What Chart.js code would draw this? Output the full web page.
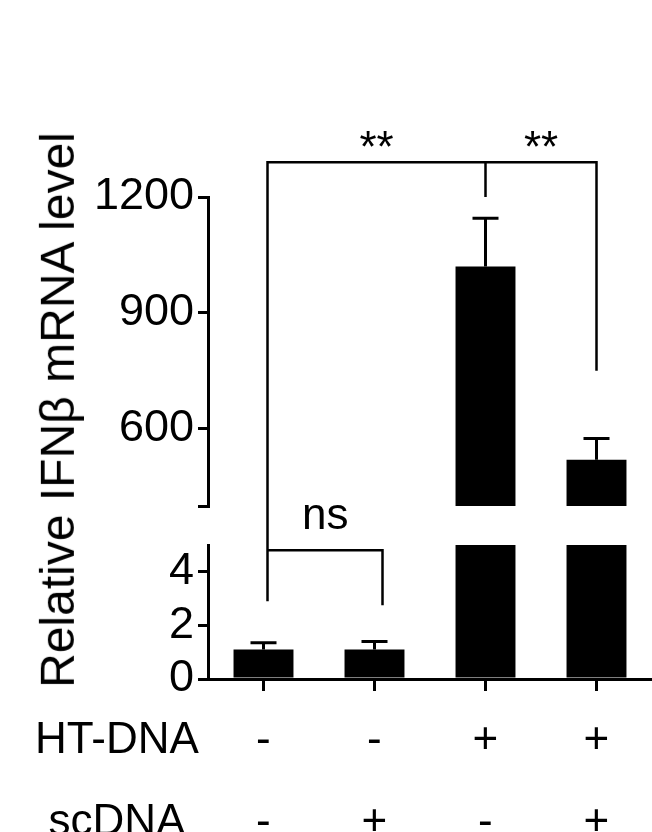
<!DOCTYPE html>
<html><head><meta charset="utf-8">
<script src="https://cdn.jsdelivr.net/npm/chart.js@4/dist/chart.umd.min.js"></script>
<style>
body{margin:0;background:#fff;overflow:hidden}
#wrap{position:relative;width:652px;height:832px;font-family:"Liberation Sans",Arial,sans-serif;color:#000}
canvas{position:absolute;left:0}
.t{position:absolute;font-size:44px;line-height:1;white-space:nowrap}
</style></head><body>
<div id="wrap">
<canvas id="up" width="652" height="537" style="top:0"></canvas>
<canvas id="lo" width="652" height="196" style="top:514px"></canvas>
<canvas id="ov" width="652" height="832" style="top:0"></canvas>
</div>
<script>
const categories = ["1","2","3","4"];
const means = [1.1, 1.1, 1020, 520];
const errTops = [1.35, 1.4, 1145, 575];
const upperTicks = [600, 900, 1200];
const lowerTicks = [0, 2, 4];
const htDNA = ["-","-","+","+"];
const scDNA = ["-","+","-","+"];
const FONT = {family:"Liberation Sans", size:45};
const LO_TOP = 514;

const errPlugin = {id:'err', afterDatasetsDraw(c){
  const ctx=c.ctx, a=c.chartArea, x=c.scales.x, y=c.scales.y;
  ctx.save(); ctx.beginPath(); ctx.rect(a.left,a.top-20,a.right-a.left,a.bottom-a.top+20); ctx.clip();
  ctx.strokeStyle='#000'; ctx.lineWidth=3;
  means.forEach((m,i)=>{
    if(errTops[i]>y.max || m<y.min) return;
    const px=x.getPixelForValue(i), y0=y.getPixelForValue(m), y1=y.getPixelForValue(errTops[i]);
    ctx.beginPath(); ctx.moveTo(px,y0); ctx.lineTo(px,y1); ctx.moveTo(px-13,y1); ctx.lineTo(px+13,y1); ctx.stroke();
  });
  ctx.restore();
}};

function mk(id, min, max, ticks, showX, pad){
  return new Chart(document.getElementById(id), {
    type:'bar',
    data:{labels:categories, datasets:[{data:means, backgroundColor:'#000', barPercentage:0.54, categoryPercentage:1}]},
    options:{responsive:false, animation:false, plugins:{legend:{display:false},tooltip:{enabled:false}},
      layout:{padding:pad},
      scales:{
        x:{display:showX, offset:true, ticks:{display:false},
           grid:{drawOnChartArea:false, tickLength:12, color:'#000', lineWidth:3, offset:false},
           border:{color:'#000', width:3},
           afterFit(s){s.height=15;}},
        y:{min:min, max:max, afterBuildTicks(s){s.ticks=(min===400?[400,...ticks]:ticks).map(v=>({value:v}));},
           ticks:{font:FONT, color:'#000', padding:4, callback:v=>ticks.includes(v)?String(v):''},
           grid:{drawOnChartArea:false, tickLength:10, color:'#000', lineWidth:3},
           border:{color:'#000', width:3},
           afterFit(s){s.width=208;}}
      }},
    plugins:[errPlugin]
  });
}
const up = mk('up', 400, 1200, upperTicks, false, {top:197, bottom:13, right:0, left:0});
const lo = mk('lo', 0, 5, lowerTicks, true, {top:24, bottom:2, right:0, left:0});

const ov=document.getElementById('ov').getContext('2d');
ov.strokeStyle='#000'; ov.lineWidth=2.5;
const X=i=>lo.scales.x.getPixelForValue(i);
const YU=v=>up.scales.y.getPixelForValue(v);
const YL=v=>LO_TOP+lo.scales.y.getPixelForValue(v);
function path(pts){ov.beginPath(); ov.moveTo(pts[0][0],pts[0][1]); pts.slice(1).forEach(p=>ov.lineTo(p[0],p[1])); ov.stroke();}
const xl=X(0)+4;
path([[xl,YL(2.9)],[xl,YU(1290)],[X(2),YU(1290)],[X(2),YU(1200)]]);
path([[X(2),YU(1290)],[X(3),YU(1290)],[X(3),YU(750)]]);
path([[xl,YL(4.8)],[X(1)+8,YL(4.8)],[X(1)+8,YL(2.75)]]);

const wrap=document.getElementById('wrap');
function txt(s,cx,top){const d=document.createElement('div');d.className='t';d.textContent=s;wrap.appendChild(d);
  const w=d.offsetWidth; d.style.left=(cx-w/2)+'px'; d.style.top=top+'px'; return d;}
txt('**', (xl+X(2))/2, 125);
txt('**', (X(2)+X(3))/2, 125);
txt('ns', (xl+X(1)+8)/2, 492);
txt('HT-DNA', 117, 716);
txt('scDNA', 117, 798);
categories.forEach((c,i)=>{txt(htDNA[i], X(i), 716); txt(scDNA[i], X(i), 798);});
const t=txt('Relative IFNβ mRNA level', 0, 0);
t.style.fontSize='48px';
const w=t.offsetWidth, h=t.offsetHeight;
t.style.left=(58-w/2)+'px'; t.style.top=(410-h/2)+'px'; t.style.transform='rotate(-90deg)';
</script>
</body></html>
